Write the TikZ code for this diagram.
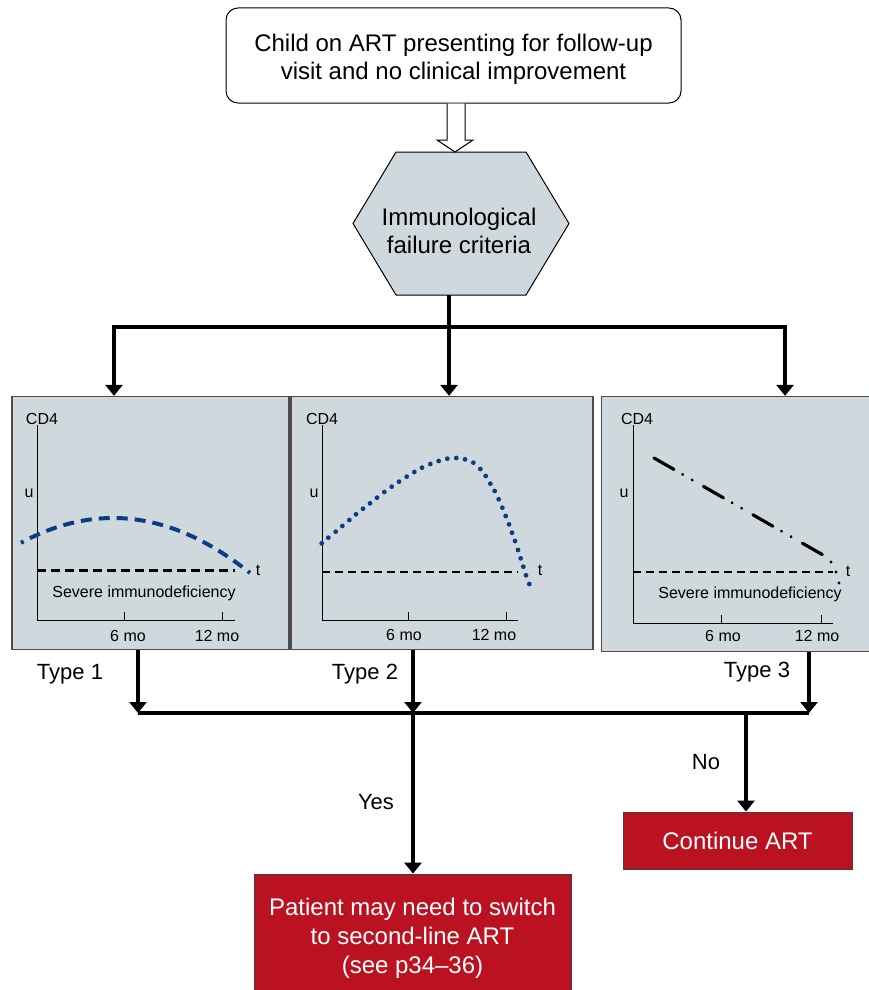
\documentclass[tikz,border=0pt]{standalone}
\usepackage{fontspec}
\setmainfont{Liberation Sans}
\usetikzlibrary{arrows.meta}
\definecolor{panelgray}{HTML}{CFD8DD}
\definecolor{artred}{HTML}{BA1220}
\definecolor{curveblue}{HTML}{0B3D87}
\tikzset{
  conn/.style={line width=4.5pt,-{Triangle[length=11pt,width=17pt]}},
  plainconn/.style={line width=4.5pt},
  panelbox/.style={draw=black!70,line width=1.3pt,fill=panelgray},
  redbox/.style={draw=black!75,line width=0.8pt,fill=artred,text=white,font=\fontsize{24}{29}\selectfont,align=center},
  small/.style={font=\fontsize{16}{18}\selectfont,inner sep=0pt},
  typelab/.style={font=\fontsize{22}{25}\selectfont,inner sep=0pt},
  axis/.style={line width=1pt},
}
\begin{document}
\begin{tikzpicture}[x=1pt,y=-1pt]
\clip (0,0) rectangle (869,990);
\fill[white] (0,0) rectangle (869,990);

% top box
\node[draw,line width=1pt,rounded corners=12pt,minimum width=455,minimum height=95] (start) at (453.5,55.5) {};
\node[align=center,font=\fontsize{24}{28}\selectfont] (starttext) at (453.5,59.5)
      {Child on ART presenting for follow-up\\visit and no clinical improvement};

% hexagon
\draw[fill=panelgray,line width=1pt] (396,152) -- (526,152) -- (569,223.5) -- (526,295) -- (396,295) -- (353,223.5) -- cycle;
\node[align=center,font=\fontsize{24}{28.5}\selectfont] (hex) at (459,231) {Immunological\\failure criteria};
\coordinate (hexS) at (449,295);

% hollow arrow
\draw[fill=white,line width=1pt] (start.south -| 447,0) -- (447,140) -- (437,140) -- (455,152) -- (473,140) -- (465,140) -- (start.south -| 465,0);

% panels
\node[panelbox,minimum width=277,minimum height=253,inner sep=0pt] (p1) at (150.5,523) {};
\node[panelbox,minimum width=302,minimum height=253,inner sep=0pt] (p2) at (442,523) {};
\node[panelbox,minimum width=268,minimum height=255,inner sep=0pt] (p3) at (735.5,524) {};

% split connectors
\coordinate (split) at (449,327);
\coordinate (sL) at (114,327);
\coordinate (sR) at (785,327);
\draw[plainconn] (hexS) -- (split);
\draw[plainconn,line cap=rect] (sL) -- (sR);
\draw[conn] (sL) -- (p1.north -| sL);
\draw[conn] (split) -- (p2.north -| split);
\draw[conn] (sR) -- (p3.north -| sR);

% ---------- panel 1
\draw[axis] (37,425) -- (37,620) -- (235,620);
\draw[axis] (124,612) -- (124,620) (222,612) -- (222,620);
\node[small] (p1cd) at (42,419) {CD4};
\node[small] (p1u) at (29,493) {u};
\node[small] (p1t) at (258,570) {t};
\node[small] (p1a) at (128,636) {6 mo};
\node[small] (p1b) at (217,636) {12 mo};
\node[small] (p1s) at (144,593) {Severe immunodeficiency};
\draw[line width=3pt,dash pattern=on 9pt off 5pt] (37,570) -- (235,570);
\draw[curveblue,line width=4pt,dash pattern=on 3pt off 7pt on 11pt off 7pt on 11pt off 7pt on 11pt off 7pt on 11pt off 7pt on 11pt off 7pt on 11pt off 7pt on 11pt off 7pt on 11pt off 7pt on 11pt off 7pt on 11pt off 7pt on 11pt off 7pt on 11pt off 7pt on 11pt off 7pt on 11pt off 7pt]
  plot[domain=21:250,samples=60] (\x,{518+0.00293*(\x-113)*(\x-113)});

% ---------- panel 2
\draw[axis] (322,425) -- (322,620) -- (518,620);
\draw[axis] (408,612) -- (408,620) (506,612) -- (506,620);
\node[small] (p2cd) at (322,419) {CD4};
\node[small] (p2u) at (314,493) {u};
\node[small] (p2t) at (540,570) {t};
\node[small] (p2a) at (404,635) {6 mo};
\node[small] (p2b) at (494,635) {12 mo};
\draw[line width=1.3pt,dash pattern=on 8pt off 5pt] (322,572) -- (518,572);
\foreach \a/\b in {110/460,130/443,152/425,172/408,193/390,213/373,234/356,255/340,276/323,298/306,320/290,342/275,365/260,388/246,411/233,436/222,461/213,487/206,514/204,540/208,565/218,586/237,602/258,616/281,629/303,641/328,652/353,662/378,672/403,681/428,690/453,699/480,707/505,715/530,723/556,733/582}
  \fill[curveblue] ({285+\a/3},{390+\b/3}) circle[radius=2.4];

% ---------- panel 3
\draw[axis] (633,425) -- (633,623) -- (833,623);
\draw[axis] (721,615) -- (721,623) (821,615) -- (821,623);
\node[small] (p3cd) at (637,419) {CD4};
\node[small] (p3u) at (624,493) {u};
\node[small] (p3t) at (848,571) {t};
\node[small] (p3a) at (723,636) {6 mo};
\node[small] (p3b) at (817,636) {12 mo};
\node[small] (p3s) at (750,594) {Severe immunodeficiency};
\draw[line width=1.3pt,dash pattern=on 8pt off 5pt] (633,572) -- (833,572);
\draw[line width=3.2pt,dash pattern=on 23pt off 10pt on 0.01pt off 11pt on 0.01pt off 13pt,line cap=round]
  (654,458) -- (823,555);
\foreach \a/\b in {831/562,836/572,839/583}
  \fill ( \a,\b) circle[radius=1.6];

% type labels
\node[typelab] (t1) at (70,674) {Type 1};
\node[typelab] (t2) at (365,674) {Type 2};
\node[typelab] (t3) at (757,672) {Type 3};

% merge connectors
\coordinate (mL) at (138,713);
\coordinate (mM) at (413,713);
\coordinate (mR) at (809,713);
\coordinate (mN) at (746,713);
\draw[plainconn] (mL) -- (mR);
\draw[conn] (p1.south -| mL) -- (mL);
\draw[conn] (p2.south -| mM) -- (mM);
\draw[conn] (p3.south -| mR) -- (mR);

% outcome boxes
\node[redbox,minimum width=229,minimum height=57,inner sep=0pt] (cont) at (737.5,840.5) {Continue ART};
\node[redbox,minimum width=317,minimum height=128,inner sep=0pt] (sw) at (412.5,938)
  {Patient may need to switch\\to second-line ART\\(see p34--36)};

\draw[conn] (mM) -- (sw.north -| mM);
\draw[conn] (mN) -- (cont.north -| mN);
\node[typelab] (yes) at (376,802) {Yes};
\node[typelab] (no) at (706,762) {No};
\end{tikzpicture}
\end{document}
